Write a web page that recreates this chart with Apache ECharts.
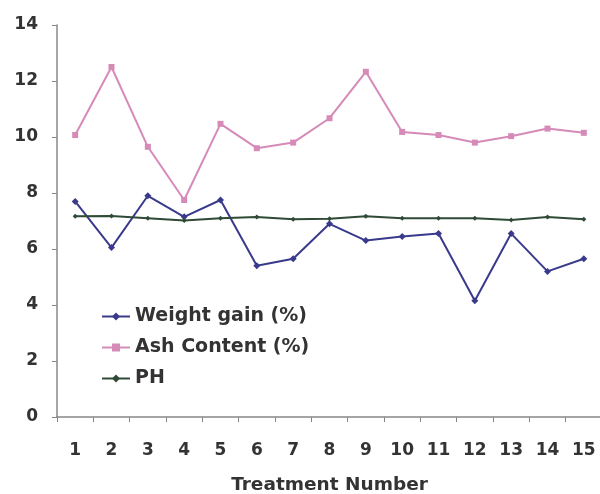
<!DOCTYPE html>
<html>
<head>
<meta charset="utf-8">
<script src="https://cdn.jsdelivr.net/npm/echarts@6/dist/echarts.min.js"></script>
<style>html,body{margin:0;padding:0;background:#fff}#c{width:600px;height:494px}</style>
</head>
<body>
<div id="c"></div>
<script>
const categories = ['1','2','3','4','5','6','7','8','9','10','11','12','13','14','15'];
const weightGain = [7.7, 6.05, 7.9, 7.15, 7.75, 5.4, 5.65, 6.9, 6.3, 6.45, 6.55, 4.15, 6.55, 5.2, 5.65];
const ashContent = [10.07, 12.5, 9.65, 7.75, 10.47, 9.6, 9.8, 10.67, 12.33, 10.18, 10.07, 9.8, 10.03, 10.3, 10.15];
const ph = [7.17, 7.18, 7.1, 7.02, 7.1, 7.14, 7.06, 7.08, 7.17, 7.1, 7.1, 7.1, 7.04, 7.14, 7.06];
const seriesNames = ['Weight gain (%)', 'Ash Content (%)', 'PH'];
const xTitle = 'Treatment Number';

const chart = echarts.init(document.getElementById('c'));
const font = 'DejaVu Sans, Verdana, sans-serif';
function mk(name, data, color, symbol, size) {
  return {
    name: name, type: 'line', data: data, symbol: symbol, symbolSize: size,
    lineStyle: {color: color, width: 2}, itemStyle: {color: color},
    emphasis: {disabled: true}
  };
}
chart.setOption({
  animation: false,
  backgroundColor: '#fff',
  grid: {left: 57, top: 25, width: 545, height: 392, containLabel: false, outerBoundsMode: 'none'},
  legend: {
    orient: 'vertical', left: 101, top: 307, padding: 0, itemGap: 12, itemWidth: 28, itemHeight: 10,
    textStyle: {fontFamily: font, fontSize: 19, fontWeight: 'bold', color: '#333'},
    data: seriesNames
  },
  xAxis: {
    type: 'category', data: categories, boundaryGap: true,
    name: xTitle, nameLocation: 'middle', nameGap: 59,
    nameTextStyle: {fontFamily: font, fontSize: 18.5, fontWeight: 'bold', color: '#333'},
    axisLine: {lineStyle: {color: '#888', width: 1.5}},
    axisTick: {show: true, length: 5, lineStyle: {color: '#888'}},
    axisLabel: {fontFamily: font, fontSize: 17, fontWeight: 'bold', color: '#333', margin: 25, interval: 0}
  },
  yAxis: {
    type: 'value', min: 0, max: 14, interval: 2,
    axisLine: {show: true, lineStyle: {color: '#888', width: 1.5}},
    axisTick: {show: true, length: 5, lineStyle: {color: '#888'}},
    splitLine: {show: false},
    axisLabel: {fontFamily: font, fontSize: 17, fontWeight: 'bold', color: '#333', margin: 19}
  },
  series: [
    mk(seriesNames[0], weightGain, '#3a3a8c', 'diamond', 7),
    mk(seriesNames[1], ashContent, '#d68ab8', 'rect', 6),
    mk(seriesNames[2], ph, '#2f4a36', 'diamond', 5)
  ]
});
</script>
</body>
</html>
